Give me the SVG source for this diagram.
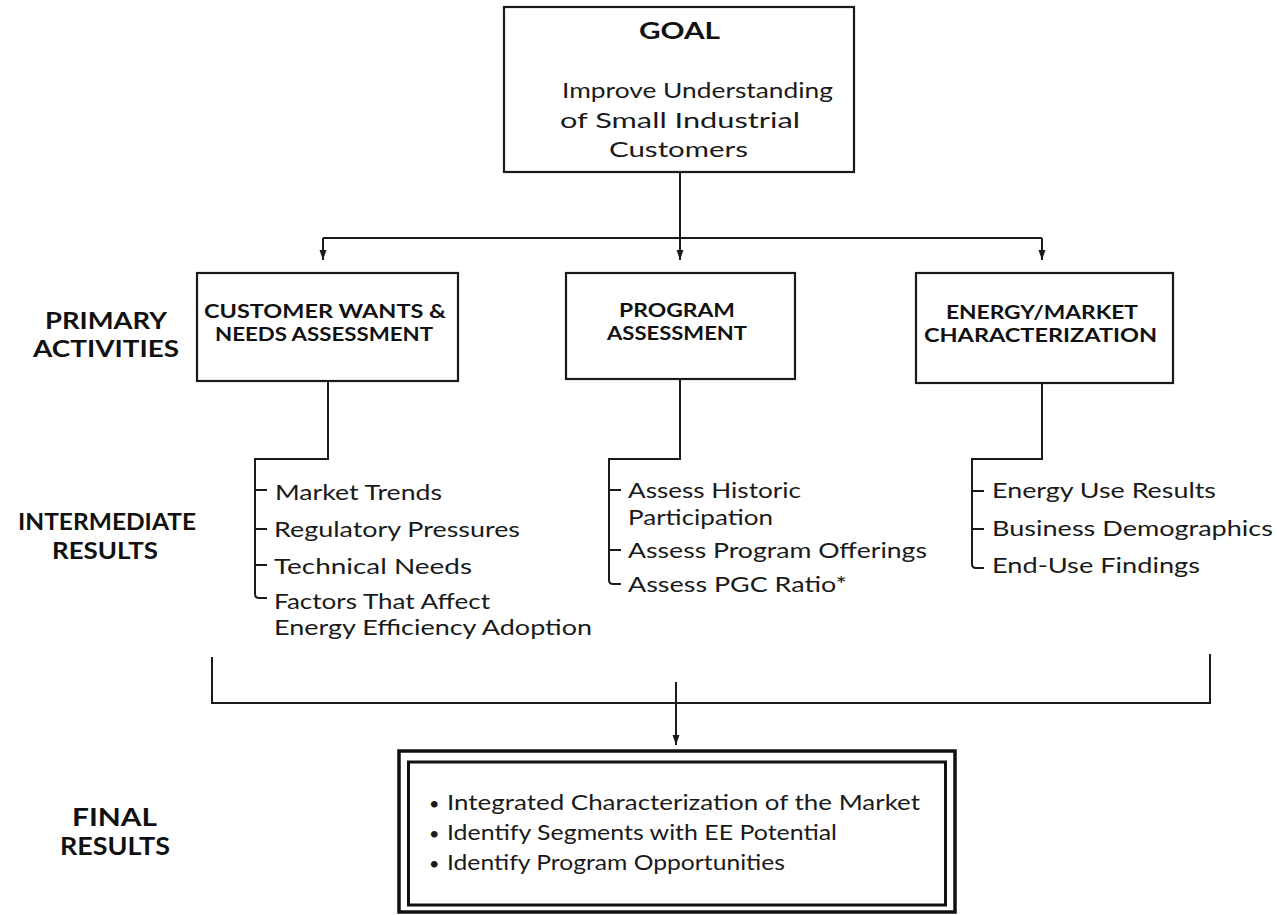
<svg xmlns="http://www.w3.org/2000/svg" width="1278" height="915" viewBox="0 0 1278 915">
<defs>
<marker id="arr" viewBox="0 -4 10 8" refX="10" refY="0" markerWidth="10" markerHeight="8" markerUnits="userSpaceOnUse" orient="auto">
<path d="M0,-3.5 L10,0 L0,3.5 z" fill="#1a1a1a"/>
</marker>
<style>
.box{fill:#fff;stroke:#1a1a1a;stroke-width:2.2}
.ln{fill:none;stroke:#1a1a1a;stroke-width:2}
.hd{font-family:Lato,"Liberation Sans",sans-serif;font-weight:700;font-size:19px;fill:#111}
.lb{font-family:Lato,"Liberation Sans",sans-serif;font-weight:700;font-size:22px;fill:#111}
.tx{font-family:Lato,"Liberation Sans",sans-serif;font-weight:400;font-size:22px;fill:#1a1a1a}
</style>
</defs>
<rect width="1278" height="915" fill="#fff"/>

<g id="labels">
<text class="lb" x="45" y="329" textLength="122" lengthAdjust="spacingAndGlyphs">PRIMARY</text>
<text class="lb" x="33" y="357" textLength="146" lengthAdjust="spacingAndGlyphs">ACTIVITIES</text>
<text class="lb" x="18" y="530" textLength="178" lengthAdjust="spacingAndGlyphs">INTERMEDIATE</text>
<text class="lb" x="52" y="559" textLength="106" lengthAdjust="spacingAndGlyphs">RESULTS</text>
<text class="lb" x="72" y="826" style="font-size:24px" textLength="85" lengthAdjust="spacingAndGlyphs">FINAL</text>
<text class="lb" x="60" y="855" style="font-size:24px" textLength="110" lengthAdjust="spacingAndGlyphs">RESULTS</text>
</g>

<g id="connectors">
<path class="ln" d="M680 172 V238 M323 238 H1042"/>
<path class="ln" d="M323 238 V260" marker-end="url(#arr)"/>
<path class="ln" d="M680 238 V260" marker-end="url(#arr)"/>
<path class="ln" d="M1042 238 V260" marker-end="url(#arr)"/>
<path class="ln" d="M328 381 V459 H255 V594 Q255 598 259 598 H267 M255 490 H267 M255 529 H267 M255 565 H267"/>
<path class="ln" d="M680 379 V459 H609 V580 Q609 584 613 584 H621 M609 490 H621 M609 550 H621"/>
<path class="ln" d="M1042 383 V459 H972 V564 Q972 568 976 568 H984 M972 491 H984 M972 529 H984"/>
<path class="ln" d="M212 657 V703 H1210 V654"/>
<path class="ln" d="M676 682 V745" marker-end="url(#arr)"/>
</g>

<g id="goal">
<rect class="box" x="504" y="7" width="350" height="165"/>
<text class="hd" x="639" y="39" style="font-size:22px" textLength="81" lengthAdjust="spacingAndGlyphs">GOAL</text>
<text class="tx" x="562" y="98" textLength="271" lengthAdjust="spacingAndGlyphs">Improve Understanding</text>
<text class="tx" x="560" y="128" textLength="240" lengthAdjust="spacingAndGlyphs">of Small Industrial</text>
<text class="tx" x="609" y="157" textLength="139" lengthAdjust="spacingAndGlyphs">Customers</text>
</g>

<g id="customer-wants">
<rect class="box" x="197" y="273" width="261" height="108"/>
<text class="hd" x="204" y="318" textLength="242" lengthAdjust="spacingAndGlyphs">CUSTOMER WANTS &amp;</text>
<text class="hd" x="215" y="341" textLength="218" lengthAdjust="spacingAndGlyphs">NEEDS ASSESSMENT</text>
</g>

<g id="program-assessment">
<rect class="box" x="566" y="273" width="229" height="106"/>
<text class="hd" x="619" y="317" textLength="116" lengthAdjust="spacingAndGlyphs">PROGRAM</text>
<text class="hd" x="607" y="340" textLength="140" lengthAdjust="spacingAndGlyphs">ASSESSMENT</text>
</g>

<g id="energy-market">
<rect class="box" x="916" y="273" width="257" height="110"/>
<text class="hd" x="946" y="319" textLength="192" lengthAdjust="spacingAndGlyphs">ENERGY/MARKET</text>
<text class="hd" x="924" y="342" textLength="233" lengthAdjust="spacingAndGlyphs">CHARACTERIZATION</text>
</g>

<g id="customer-results">
<text class="tx" x="275" y="500" textLength="167" lengthAdjust="spacingAndGlyphs">Market Trends</text>
<text class="tx" x="274" y="537" textLength="246" lengthAdjust="spacingAndGlyphs">Regulatory Pressures</text>
<text class="tx" x="274" y="574" textLength="198" lengthAdjust="spacingAndGlyphs">Technical Needs</text>
<text class="tx" x="274" y="609" textLength="216" lengthAdjust="spacingAndGlyphs">Factors That Affect</text>
<text class="tx" x="274" y="635" textLength="318" lengthAdjust="spacingAndGlyphs">Energy Efficiency Adoption</text>
</g>

<g id="program-results">
<text class="tx" x="628" y="498" textLength="173" lengthAdjust="spacingAndGlyphs">Assess Historic</text>
<text class="tx" x="628" y="525" textLength="145" lengthAdjust="spacingAndGlyphs">Participation</text>
<text class="tx" x="628" y="558" textLength="299" lengthAdjust="spacingAndGlyphs">Assess Program Offerings</text>
<text class="tx" x="628" y="592" textLength="219" lengthAdjust="spacingAndGlyphs">Assess PGC Ratio*</text>
</g>

<g id="energy-results">
<text class="tx" x="992" y="498" textLength="224" lengthAdjust="spacingAndGlyphs">Energy Use Results</text>
<text class="tx" x="992" y="536" textLength="281" lengthAdjust="spacingAndGlyphs">Business Demographics</text>
<text class="tx" x="992" y="573" textLength="208" lengthAdjust="spacingAndGlyphs">End-Use Findings</text>
</g>

<g id="final-results">
<rect x="399" y="751" width="556" height="161" fill="#fff" stroke="#111" stroke-width="3.5"/>
<rect x="408.5" y="762" width="537" height="143" fill="none" stroke="#111" stroke-width="3"/>
<text class="tx" x="429" y="810" style="font-size:18px">•</text>
<text class="tx" x="447" y="810" textLength="473" lengthAdjust="spacingAndGlyphs">Integrated Characterization of the Market</text>
<text class="tx" x="429" y="840" style="font-size:18px">•</text>
<text class="tx" x="447" y="840" textLength="390" lengthAdjust="spacingAndGlyphs">Identify Segments with EE Potential</text>
<text class="tx" x="429" y="870" style="font-size:18px">•</text>
<text class="tx" x="447" y="870" textLength="338" lengthAdjust="spacingAndGlyphs">Identify Program Opportunities</text>
</g>
</svg>
